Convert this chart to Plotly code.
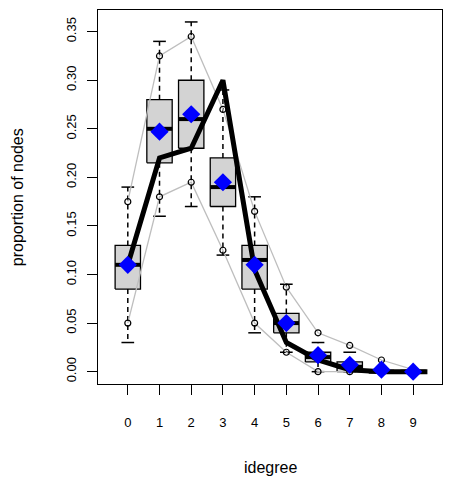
import plotly.graph_objects as go

# ---- data ----
degrees = [0, 1, 2, 3, 4, 5, 6, 7, 8, 9]
tick_labels = ["0", "1", "2", "3", "4", "5", "6", "7", "8", "9"]
y_ticks = [0.00, 0.05, 0.10, 0.15, 0.20, 0.25, 0.30, 0.35]

box_lo = [0.03, 0.16, 0.17, 0.12, 0.04, 0.02, 0.0, 0.0, 0.0, 0.0]
box_q1 = [0.085, 0.215, 0.23, 0.17, 0.085, 0.04, 0.01, 0.0, 0.0, 0.0]
box_med = [0.11, 0.25, 0.26, 0.19, 0.115, 0.05, 0.015, 0.005, 0.0, 0.0]
box_q3 = [0.13, 0.28, 0.30, 0.22, 0.13, 0.06, 0.02, 0.01, 0.0, 0.0]
box_hi = [0.19, 0.34, 0.36, 0.29, 0.18, 0.09, 0.03, 0.02, 0.0, 0.0]

upper_q = [0.175, 0.325, 0.345, 0.27, 0.165, 0.087, 0.04, 0.027, 0.012, 0.002]
lower_q = [0.05, 0.18, 0.195, 0.125, 0.05, 0.02, 0.0, 0.0, 0.0, 0.0]
sim_mean = [0.11, 0.247, 0.265, 0.195, 0.11, 0.05, 0.017, 0.007, 0.002, 0.0]

obs_x = [0, 1, 2, 3, 4, 5, 6, 7, 8, 9, 9.45]
observed = [0.11, 0.22, 0.23, 0.30, 0.105, 0.03, 0.012, 0.002, 0.0, 0.0, 0.0]

BOX_HALF = 0.4
CAP_HALF = 0.2
FONT = "Liberation Sans, Arial, sans-serif"

fig = go.Figure()

# whiskers (dashed)
wx, wy = [], []
for d, lo, q1, q3, hi in zip(degrees, box_lo, box_q1, box_q3, box_hi):
    if hi > q3:
        wx += [d, d, None]; wy += [q3, hi, None]
    if lo < q1:
        wx += [d, d, None]; wy += [q1, lo, None]
fig.add_trace(go.Scatter(x=wx, y=wy, mode="lines",
                         line=dict(color="black", width=1.5, dash="5px,4px"),
                         hoverinfo="skip", showlegend=False))
# caps
cx, cy = [], []
for d, lo, hi in zip(degrees, box_lo, box_hi):
    cx += [d - CAP_HALF, d + CAP_HALF, None, d - CAP_HALF, d + CAP_HALF, None]
    cy += [hi, hi, None, lo, lo, None]
fig.add_trace(go.Scatter(x=cx, y=cy, mode="lines",
                         line=dict(color="black", width=1.5),
                         hoverinfo="skip", showlegend=False))
# boxes
for d, q1, q3 in zip(degrees, box_q1, box_q3):
    fig.add_trace(go.Scatter(
        x=[d - BOX_HALF, d + BOX_HALF, d + BOX_HALF, d - BOX_HALF, d - BOX_HALF],
        y=[q1, q1, q3, q3, q1], mode="lines", fill="toself",
        fillcolor="#D3D3D3", line=dict(color="black", width=1.3),
        hoverinfo="skip", showlegend=False))
# medians
mx, my = [], []
for d, m in zip(degrees, box_med):
    mx += [d - BOX_HALF, d + BOX_HALF, None]
    my += [m, m, None]
fig.add_trace(go.Scatter(x=mx, y=my, mode="lines",
                         line=dict(color="black", width=4),
                         hoverinfo="skip", showlegend=False))

# gray quantile lines with open circles
for q in (upper_q, lower_q):
    fig.add_trace(go.Scatter(x=degrees, y=q, mode="lines",
                             line=dict(color="#BEBEBE", width=1.3),
                             hoverinfo="skip", showlegend=False))
    fig.add_trace(go.Scatter(x=degrees, y=q, mode="markers",
                             marker=dict(symbol="circle-open", size=6,
                                         color="black", line=dict(width=1.2)),
                             hoverinfo="skip", showlegend=False))

# observed line
fig.add_trace(go.Scatter(x=obs_x, y=observed, mode="lines",
                         line=dict(color="black", width=5),
                         hoverinfo="skip", showlegend=False))
# blue diamonds
fig.add_trace(go.Scatter(x=degrees, y=sim_mean, mode="markers",
                         marker=dict(symbol="diamond", size=14, color="#0000FF",
                                     line=dict(width=0)),
                         hoverinfo="skip", showlegend=False))

axis_common = dict(showgrid=False, zeroline=False, showline=True, mirror=True,
                   linecolor="black", linewidth=1, ticks="outside", ticklen=10,
                   tickcolor="black", tickwidth=1,
                   tickfont=dict(family=FONT, size=13, color="black"))

fig.update_xaxes(range=[-0.94, 9.91], tickmode="array", tickvals=degrees,
                 ticktext=tick_labels, ticklabelstandoff=16, **axis_common)
fig.update_yaxes(range=[-0.0127, 0.3723], tickmode="array", tickvals=y_ticks,
                 ticktext=[f"{v:.2f}" for v in y_ticks], tickangle=-90,
                 ticklabelstandoff=6, **axis_common)

fig.add_annotation(text="idegree", xref="paper", yref="paper", x=0.5, y=-0.222,
                   xanchor="center", yanchor="middle", showarrow=False,
                   font=dict(family=FONT, size=16, color="black"))
fig.add_annotation(text="proportion of nodes", xref="paper", yref="paper",
                   x=-0.235, y=0.5, textangle=-90, xanchor="center",
                   yanchor="middle", showarrow=False,
                   font=dict(family=FONT, size=16, color="black"))

fig.update_layout(width=451, height=483, margin=dict(l=98, r=9, t=10, b=99),
                  plot_bgcolor="white", paper_bgcolor="white",
                  showlegend=False)

fig.write_html("out.html")
